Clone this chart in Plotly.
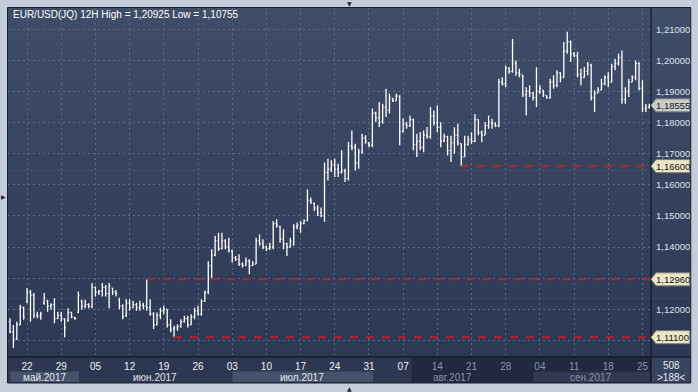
import plotly.graph_objects as go

# ---------------- data: EUR/USD 12H bars (188 visible bars) ----------------
opens = [1.1160, 1.1128, 1.1105, 1.1150, 1.1205, 1.1225, 1.1255, 1.1245, 1.1180, 1.1178,
         1.1220, 1.1225, 1.1210, 1.1215, 1.1170, 1.1180, 1.1168, 1.1165, 1.1190, 1.1172,
         1.1190, 1.1225, 1.1210, 1.1215, 1.1210, 1.1270, 1.1255, 1.1258, 1.1270, 1.1250,
         1.1268, 1.1255, 1.1230, 1.1210, 1.1180, 1.1220, 1.1205, 1.1215, 1.1205, 1.1212,
         1.1210, 1.1205, 1.1184, 1.1150, 1.1180, 1.1195, 1.1200, 1.1150, 1.1135, 1.1140,
         1.1145, 1.1160, 1.1170, 1.1150, 1.1175, 1.1195, 1.1185, 1.1225, 1.1255, 1.1340,
         1.1375, 1.1420, 1.1395, 1.1420, 1.1400, 1.1388, 1.1365, 1.1360, 1.1345, 1.1340,
         1.1355, 1.1340, 1.1345, 1.1420, 1.1410, 1.1400, 1.1395, 1.1400, 1.1475, 1.1465,
         1.1425, 1.1410, 1.1400, 1.1410, 1.1465, 1.1460, 1.1475, 1.1485, 1.1550, 1.1540,
         1.1525, 1.1510, 1.1500, 1.1640, 1.1650, 1.1665, 1.1650, 1.1640, 1.1645, 1.1620,
         1.1725, 1.1720, 1.1670, 1.1705, 1.1750, 1.1735, 1.1728, 1.1830, 1.1815, 1.1805,
         1.1850, 1.1840, 1.1875, 1.1870, 1.1885, 1.1772, 1.1795, 1.1790, 1.1810, 1.1730,
         1.1740, 1.1720, 1.1760, 1.1755, 1.1820, 1.1800, 1.1785, 1.1742, 1.1755, 1.1710,
         1.1735, 1.1760, 1.1732, 1.1690, 1.1730, 1.1745, 1.1740, 1.1810, 1.1768, 1.1760,
         1.1790, 1.1800, 1.1795, 1.1790, 1.1930, 1.1925, 1.1975, 1.1965, 1.1990, 1.1960,
         1.1950, 1.1890, 1.1900, 1.1895, 1.1880, 1.1900, 1.1904, 1.1887, 1.1880, 1.1930,
         1.1920, 1.1960, 1.1945, 1.2030, 1.2060, 1.2020, 1.2015, 1.1955, 1.1945, 1.1965,
         1.1985, 1.1880, 1.1895, 1.1905, 1.1925, 1.1945, 1.1930, 1.1980, 1.1990, 1.2010,
         1.1875, 1.1900, 1.1930, 1.1945, 1.1990, 1.1910, 1.1845, 1.1850]
highs = [1.1171, 1.1149, 1.1160, 1.1214, 1.1209, 1.1268, 1.1262, 1.1252, 1.1192, 1.1192,
         1.1252, 1.1230, 1.1219, 1.1235, 1.1192, 1.1192, 1.1171, 1.1203, 1.1192, 1.1176,
         1.1257, 1.1230, 1.1230, 1.1219, 1.1284, 1.1273, 1.1262, 1.1284, 1.1278, 1.1284,
         1.1268, 1.1262, 1.1237, 1.1216, 1.1232, 1.1232, 1.1227, 1.1221, 1.1227, 1.1221,
         1.1296, 1.1232, 1.1190, 1.1189, 1.1205, 1.1211, 1.1200, 1.1168, 1.1147, 1.1152,
         1.1168, 1.1179, 1.1179, 1.1184, 1.1205, 1.1211, 1.1232, 1.1259, 1.1354, 1.1393,
         1.1436, 1.1446, 1.1446, 1.1425, 1.1430, 1.1390, 1.1371, 1.1377, 1.1350, 1.1366,
         1.1361, 1.1355, 1.1430, 1.1441, 1.1425, 1.1404, 1.1414, 1.1484, 1.1489, 1.1468,
         1.1457, 1.1414, 1.1430, 1.1473, 1.1479, 1.1484, 1.1489, 1.1586, 1.1559, 1.1543,
         1.1534, 1.1527, 1.1672, 1.1684, 1.1679, 1.1684, 1.1668, 1.1711, 1.1652, 1.1738,
         1.1775, 1.1732, 1.1716, 1.1764, 1.1759, 1.1738, 1.1845, 1.1835, 1.1866, 1.1861,
         1.1909, 1.1893, 1.1880, 1.1893, 1.1888, 1.1813, 1.1802, 1.1823, 1.1813, 1.1764,
         1.1770, 1.1775, 1.1786, 1.1850, 1.1839, 1.1855, 1.1801, 1.1764, 1.1758, 1.1758,
         1.1785, 1.1796, 1.1732, 1.1758, 1.1758, 1.1769, 1.1828, 1.1810, 1.1775, 1.1801,
         1.1823, 1.1812, 1.1801, 1.1941, 1.1946, 1.1984, 1.1978, 1.2069, 1.2000, 1.1973,
         1.1955, 1.1914, 1.1919, 1.1898, 1.1978, 1.1920, 1.1904, 1.1887, 1.1941, 1.1952,
         1.1968, 1.1962, 1.2059, 1.20925, 1.2064, 1.2027, 1.2027, 1.1973, 1.1979, 1.1995,
         1.1989, 1.1904, 1.1914, 1.1941, 1.1952, 1.1962, 1.1989, 1.2005, 1.2021, 1.2032,
         1.1914, 1.1941, 1.1952, 1.2000, 1.1995, 1.1936, 1.1860, 1.1861]
lows = [1.1123, 1.10755, 1.1101, 1.1149, 1.1166, 1.1219, 1.1160, 1.1171, 1.1171, 1.1166,
        1.1214, 1.1192, 1.1198, 1.1155, 1.1168, 1.1160, 1.1110, 1.1160, 1.1171, 1.1166,
        1.1187, 1.1198, 1.1203, 1.1203, 1.1203, 1.1241, 1.1246, 1.1241, 1.1241, 1.1203,
        1.1246, 1.1241, 1.1200, 1.1168, 1.1175, 1.1195, 1.1205, 1.1195, 1.1195, 1.1200,
        1.1195, 1.1179, 1.1136, 1.1148, 1.1168, 1.1184, 1.1141, 1.1126, 1.1110, 1.1131,
        1.1140, 1.1157, 1.1141, 1.1150, 1.1168, 1.1179, 1.1179, 1.1225, 1.1248, 1.1300,
        1.1370, 1.1387, 1.1393, 1.1393, 1.1382, 1.1350, 1.1355, 1.1339, 1.1334, 1.1340,
        1.1312, 1.1340, 1.1345, 1.1404, 1.1393, 1.1387, 1.1390, 1.1393, 1.1462, 1.1414,
        1.1393, 1.1371, 1.1398, 1.1404, 1.1457, 1.1446, 1.1473, 1.1484, 1.1538, 1.1516,
        1.1500, 1.1496, 1.1480, 1.1614, 1.1641, 1.1625, 1.1625, 1.1636, 1.1609, 1.1614,
        1.1711, 1.1646, 1.1652, 1.1700, 1.1732, 1.1721, 1.1721, 1.1802, 1.1786, 1.1796,
        1.1818, 1.1829, 1.1866, 1.1870, 1.1727, 1.1768, 1.1780, 1.1786, 1.1711, 1.1689,
        1.1711, 1.1705, 1.1748, 1.1748, 1.1791, 1.1769, 1.1721, 1.1738, 1.1694, 1.1673,
        1.1700, 1.1726, 1.1660, 1.1690, 1.1726, 1.1732, 1.1737, 1.1759, 1.1737, 1.1760,
        1.1780, 1.1780, 1.1785, 1.1785, 1.1919, 1.1914, 1.1957, 1.1960, 1.1951, 1.1946,
        1.1882, 1.1823, 1.1882, 1.1871, 1.1850, 1.1893, 1.1882, 1.1877, 1.1877, 1.1909,
        1.1914, 1.1930, 1.1945, 1.2021, 1.1995, 1.2011, 1.1946, 1.1920, 1.1945, 1.1952,
        1.1871, 1.1834, 1.1895, 1.1905, 1.1920, 1.1914, 1.1930, 1.1968, 1.1984, 1.1861,
        1.1861, 1.1882, 1.1930, 1.1936, 1.1904, 1.1834, 1.1834, 1.1845]
closes = [1.1128, 1.1101, 1.1150, 1.1205, 1.1175, 1.1255, 1.1245, 1.1180, 1.1178, 1.1185,
          1.1235, 1.1210, 1.1215, 1.1170, 1.1180, 1.1170, 1.1140, 1.1190, 1.1175, 1.1170,
          1.1245, 1.1210, 1.1215, 1.1210, 1.1270, 1.1255, 1.1258, 1.1270, 1.1250, 1.1275,
          1.1255, 1.1250, 1.1210, 1.1175, 1.1220, 1.1205, 1.1215, 1.1205, 1.1212, 1.1210,
          1.1205, 1.1184, 1.1150, 1.1180, 1.1195, 1.1200, 1.1150, 1.1135, 1.1140, 1.1145,
          1.1160, 1.1170, 1.1150, 1.1175, 1.1195, 1.1185, 1.1225, 1.1255, 1.1340, 1.1375,
          1.1420, 1.1395, 1.1420, 1.1400, 1.1390, 1.1365, 1.1360, 1.1345, 1.1340, 1.1355,
          1.1340, 1.1345, 1.1420, 1.1410, 1.1400, 1.1395, 1.1400, 1.1475, 1.1470, 1.1425,
          1.1410, 1.1400, 1.1420, 1.1465, 1.1470, 1.1475, 1.1485, 1.1550, 1.1545, 1.1525,
          1.1510, 1.1500, 1.1640, 1.1650, 1.1665, 1.1650, 1.1640, 1.1645, 1.1620, 1.1725,
          1.1720, 1.1670, 1.1705, 1.1750, 1.1740, 1.1728, 1.1830, 1.1815, 1.1800, 1.1850,
          1.1840, 1.1880, 1.1870, 1.1885, 1.1770, 1.1795, 1.1790, 1.1810, 1.1730, 1.1740,
          1.1720, 1.1760, 1.1755, 1.1820, 1.1800, 1.1785, 1.1740, 1.1755, 1.1710, 1.1735,
          1.1760, 1.1735, 1.1690, 1.1730, 1.1745, 1.1740, 1.1810, 1.1768, 1.1760, 1.1790,
          1.1800, 1.1795, 1.1790, 1.1930, 1.1925, 1.1975, 1.1965, 1.2055, 1.1960, 1.1955,
          1.1890, 1.1900, 1.1895, 1.1880, 1.1900, 1.1910, 1.1890, 1.1880, 1.1930, 1.1920,
          1.1960, 1.1945, 1.2030, 1.2060, 1.2020, 1.2015, 1.1955, 1.1945, 1.1965, 1.1985,
          1.1880, 1.1895, 1.1905, 1.1925, 1.1945, 1.1930, 1.1980, 1.1990, 1.2010, 1.1875,
          1.1900, 1.1930, 1.1945, 1.1990, 1.1910, 1.1845, 1.1850, 1.18555]

week_labels = ["22", "29", "05", "12", "19", "26", "03", "10", "17", "24",
               "31", "07", "14", "21", "28", "04", "11", "18", "25"]
first_monday_bar = 5
bars_per_week = 10
month_labels = ["май.2017", "июн.2017", "июл.2017", "авг.2017", "сен.2017"]
month_first_bar = [0, 21, 65, 107, 153]
price_ticks = [1.11, 1.12, 1.13, 1.14, 1.15, 1.16, 1.17, 1.18, 1.19, 1.20, 1.21]
hidden_price_ticks = [1.11, 1.13]
level_values = [1.16600, 1.12960, 1.11100]
level_start_bar = [132, 40, 48]
dim_from_bar = 117.5
total_bars_text = "508"

# ---------------- geometry helpers ----------------
W, H = 698, 392
L, R, T, B = 8, 43, 8, 35
PW, PH = W - L - R, H - T - B
X_RANGE = [-0.58, 187.5]
Y_RANGE = [1.10463, 1.21685]


def px(xp):
    return (xp - L) / PW


def py(yp):
    return (H - B - yp) / PH


def fmt(v):
    return f"{v:.5f}".replace(".", ",")


n = len(closes)
idx = list(range(n))

fig = go.Figure()
fig.add_trace(go.Ohlc(
    x=idx, open=opens, high=highs, low=lows, close=closes,
    increasing=dict(line=dict(color="#ffffff", width=1.3)),
    decreasing=dict(line=dict(color="#ffffff", width=1.3)),
    tickwidth=0.33, hoverinfo="skip", showlegend=False,
))

shapes = []
# background gradient for plot + price panel
N = 30
top = (64, 77, 105)
bot = (45, 56, 84)
for k in range(N):
    t = k / (N - 1)
    c = tuple(round(bot[j] + (top[j] - bot[j]) * t) for j in range(3))
    shapes.append(dict(type="rect", xref="paper", yref="paper", layer="below",
                       x0=0, x1=px(695), y0=k / N, y1=(k + 1) / N + 0.002,
                       line=dict(width=0), fillcolor="rgb(%d,%d,%d)" % c))
# bottom time panel
shapes.append(dict(type="rect", xref="paper", yref="paper", layer="below",
                   x0=0, x1=px(695), y0=py(383), y1=0,
                   line=dict(width=0), fillcolor="#2d3751"))
# price panel bottom box
shapes.append(dict(type="rect", xref="paper", yref="paper", layer="below",
                   x0=1, x1=px(695), y0=py(383), y1=0,
                   line=dict(width=0), fillcolor="#38435f"))
# month bands
edges = [b - 0.5 for b in month_first_bar] + [X_RANGE[1]]
for m in range(len(month_labels)):
    if m % 2 == 0:
        shapes.append(dict(type="rect", xref="x", yref="paper", layer="below",
                           x0=edges[m] + 0.6, x1=edges[m + 1] - 0.3,
                           y0=py(382), y1=py(371.5),
                           line=dict(width=0), fillcolor="#46516c"))
# dimmed right part of time axis
shapes.append(dict(type="rect", xref="x", yref="paper", layer="below",
                   x0=dim_from_bar, x1=X_RANGE[1], y0=py(383), y1=py(357.5),
                   line=dict(width=0), fillcolor="rgba(12,18,34,0.38)"))

# dashed support / resistance levels
for v, s in zip(level_values, level_start_bar):
    shapes.append(dict(type="line", xref="x", yref="y", layer="above",
                       x0=s, x1=X_RANGE[1], y0=v, y1=v,
                       line=dict(color="#b8212c", width=2, dash="8px,8px")))

# axis separator lines and panel border
shapes.append(dict(type="line", xref="paper", yref="paper", layer="above",
                   x0=1, x1=1, y0=py(383), y1=1, line=dict(color="#0d1018", width=1)))
shapes.append(dict(type="line", xref="paper", yref="paper", layer="above",
                   x0=0, x1=px(695), y0=0, y1=0, line=dict(color="#0d1018", width=1)))
shapes.append(dict(type="rect", xref="paper", yref="paper", layer="above",
                   x0=px(7.5), x1=px(695), y0=py(383), y1=py(7.5),
                   line=dict(color="#1b2131", width=1)))

# price tags on right axis
tags = [(closes[-1], "#c9ccca")] + [(v, "#ece6c6") for v in level_values]
hh = 6.5 * (Y_RANGE[1] - Y_RANGE[0]) / PH
x_tip, x_l, x_r = px(655), px(660), px(694)
annotations = []
for v, col in tags:
    path = (f"M {x_tip},{v} L {x_l},{v + hh} L {x_r},{v + hh} "
            f"L {x_r},{v - hh} L {x_l},{v - hh} Z")
    shapes.append(dict(type="path", xref="paper", yref="y", layer="above",
                       path=path, fillcolor=col, line=dict(color="#7d7f78", width=1)))
    annotations.append(dict(x=px(677), y=v, xref="paper", yref="y", text=fmt(v),
                            showarrow=False, xanchor="center", yanchor="middle",
                            font=dict(family="Liberation Sans", size=9.5, color="#15171c")))

# title
title = f"EUR/USD(JQ) 12H High = {fmt(max(highs))} Low = {fmt(min(lows))}"
annotations.append(dict(x=px(11), y=py(15), xref="paper", yref="paper", text=title,
                        showarrow=False, xanchor="left", yanchor="middle",
                        font=dict(family="Liberation Sans", size=10, color="#ffffff")))

# month labels
for m, lab in enumerate(month_labels):
    cx = (edges[m] + edges[m + 1]) / 2
    col = "#e3e8f0" if cx < dim_from_bar else "#8a93a8"
    annotations.append(dict(x=cx, y=py(377), xref="x", yref="paper", text=lab,
                            showarrow=False, xanchor="center", yanchor="middle",
                            font=dict(family="Liberation Sans", size=10, color=col)))

# bar count boxes
annotations.append(dict(x=px(676), y=py(365.5), xref="paper", yref="paper",
                        text=total_bars_text, showarrow=False,
                        xanchor="center", yanchor="middle",
                        font=dict(family="Liberation Sans", size=10, color="#e3e8f0")))
annotations.append(dict(x=px(676), y=py(377.5), xref="paper", yref="paper",
                        text=f"&gt;{n}&lt;", showarrow=False,
                        xanchor="center", yanchor="middle",
                        font=dict(family="Liberation Sans", size=10, color="#e3e8f0")))

# frame decorations
for xx, yy, ch in [(352, 3, "▼"), (352, 388.5, "▲"), (3, 196, "▶")]:
    annotations.append(dict(x=px(xx), y=py(yy), xref="paper", yref="paper", text=ch,
                            showarrow=False, xanchor="center", yanchor="middle",
                            font=dict(family="DejaVu Sans", size=6, color="#1d2230")))

week_pos = [first_monday_bar + bars_per_week * k for k in range(len(week_labels))]
week_text = [lab if p < dim_from_bar else f"<span style='color:#8a93a8'>{lab}</span>"
             for lab, p in zip(week_labels, week_pos)]
ytext = ["" if v in hidden_price_ticks else fmt(v) for v in price_ticks]

fig.update_layout(
    width=W, height=H,
    margin=dict(l=L, r=R, t=T, b=B, pad=0),
    paper_bgcolor="#c4cdda",
    plot_bgcolor="rgba(0,0,0,0)",
    shapes=shapes, annotations=annotations,
    showlegend=False, hovermode=False,
    font=dict(family="Liberation Sans"),
    xaxis=dict(range=X_RANGE, tickmode="array", tickvals=week_pos, ticktext=week_text,
               showgrid=True, gridcolor="#5a6785", griddash="2px,3px", gridwidth=1,
               zeroline=False, showline=False, ticks="", ticklabelstandoff=2,
               tickfont=dict(family="Liberation Sans", size=10, color="#eef2f8"),
               rangeslider=dict(visible=False), fixedrange=True),
    yaxis=dict(range=Y_RANGE, side="right", tickmode="array", tickvals=price_ticks,
               ticktext=ytext, showgrid=True, gridcolor="#5a6785", griddash="2px,3px",
               gridwidth=1, zeroline=False, showline=False, ticks="",
               ticklabelstandoff=4,
               tickfont=dict(family="Liberation Sans", size=9.5, color="#dce3ee"),
               fixedrange=True),
)

fig.write_html("out.html", config=dict(displayModeBar=False, staticPlot=True),
               post_script="document.body.style.margin='0px';document.body.style.overflow='hidden';")
